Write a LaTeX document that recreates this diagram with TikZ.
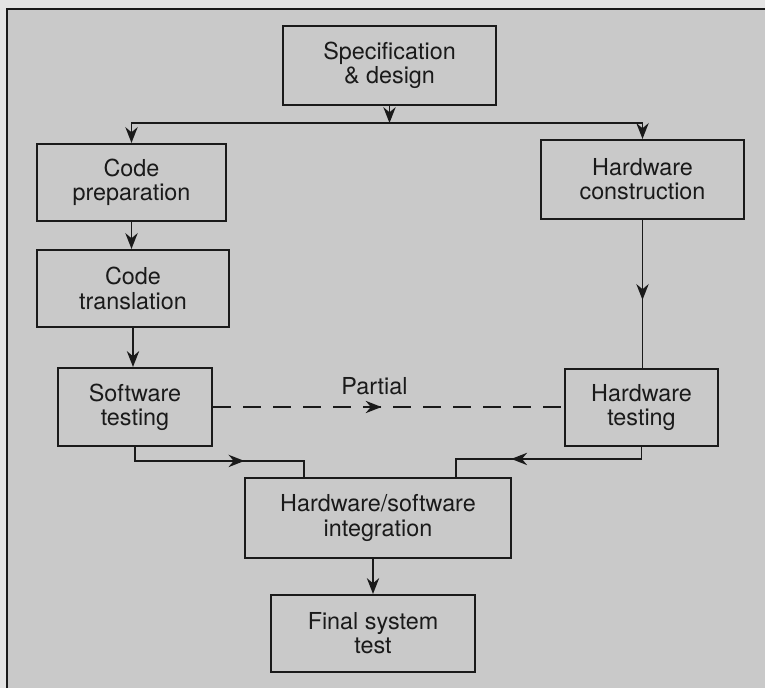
\documentclass[tikz,border=0pt]{standalone}
\usepackage{fontspec}
\setmainfont{TeX Gyre Heros}
\usepackage{xcolor}
\usetikzlibrary{arrows.meta, positioning, calc, decorations.markings}
\definecolor{sdink}{HTML}{1A1A1A}
\definecolor{sdpaper}{HTML}{C9C9C9}
\definecolor{sdmargin}{HTML}{E4E4E4}
\tikzset{
    % Stage box
    stagebox/.style={
        rectangle,
        draw=sdink,
        line width=1.2pt,
        fill=sdpaper,
        text=sdink,
        font=\fontsize{13.3}{13.8}\selectfont,
        align=center,
        inner sep=2pt
    },
    % Plain connector
    flowline/.style={
        draw=sdink,
        line width=1pt
    },
    % Connector with tip at the end
    flowarrow/.style={
        flowline,
        -{Stealth[length=9pt,width=7pt]}
    },
    % Connector with tip along the path
    midarrow/.style={
        flowline,
        decoration={markings, mark=at position #1 with {\arrow{Stealth[length=9pt,width=7pt]}}},
        postaction={decorate}
    },
    midarrow/.default=0.5
}

\begin{document}
\begin{tikzpicture}

    % Page and frame
    \useasboundingbox (0,0) rectangle (15.3,13.76);
    \fill[sdmargin] (0,0) rectangle (15.3,13.76);
    \fill[sdpaper] (0.14,0) rectangle (15.3,13.58);
    \draw[sdink, line width=1.2pt] (0.14,0) -- (0.14,13.58) -- (15.3,13.58);

    % Stages
    \node[stagebox, minimum width=4.26cm, minimum height=1.58cm] (spec) at (7.79,12.45) {Specification\\\& design};
    \node[stagebox, minimum width=3.78cm, minimum height=1.54cm] (cprep) at (2.63,10.11) {Code\\preparation};
    \node[stagebox, minimum width=4.06cm, minimum height=1.58cm] (hwcon) at (12.85,10.17) {Hardware\\construction};
    \node[stagebox, minimum width=3.84cm, minimum height=1.54cm] (ctrans) at (2.66,7.99) {Code\\translation};
    \node[stagebox, minimum width=3.08cm, minimum height=1.56cm] (swtest) at (2.70,5.62) {Software\\testing};
    \node[stagebox, minimum width=3.06cm, minimum height=1.54cm] (hwtest) at (12.83,5.61) {Hardware\\testing};
    \node[stagebox, minimum width=5.32cm, minimum height=1.60cm] (integ) at (7.56,3.40) {Hardware/software\\integration};
    \node[stagebox, minimum width=4.08cm, minimum height=1.54cm] (final) at (7.46,1.09) {Final system\\test};

    % Split below the specification
    \coordinate (split) at (spec.south |- 0,11.30);
    \draw[flowarrow] (spec.south) -- (split);
    \draw[flowarrow] (split) -| (cprep.north);
    \draw[flowarrow] (split) -| (hwcon.north);

    % Software column
    \draw[flowarrow] (cprep.south) -- (cprep.south |- ctrans.north);
    \draw[flowarrow] (ctrans.south) -- (ctrans.south |- swtest.north);

    % Hardware column
    \draw[midarrow=0.54] (hwcon.south) -- (hwcon.south |- hwtest.north);

    % Partial link
    \draw[midarrow=0.48, dash pattern=on 0.36cm off 0.24cm] (swtest.east) -- (swtest.east -| hwtest.west);
    \node[font=\fontsize{13.3}{13.8}\selectfont, text=sdink, anchor=base, inner sep=0pt] (partial)
        at ($(swtest.east)!0.46!(swtest.east -| hwtest.west) + (0,0.26)$) {Partial};

    % Into integration
    \coordinate (inl) at ([xshift=1.2cm]integ.north west);
    \coordinate (inr) at ([xshift=-1.12cm]integ.north east);
    \draw[midarrow=0.62] (swtest.south) |- ($(inl)+(0,0.32)$) -- (inl);
    \draw[midarrow=0.66] (hwtest.south) |- ($(inr)+(0,0.36)$) -- (inr);

    % Final test
    \draw[flowarrow] (final.north |- integ.south) -- (final.north);

\end{tikzpicture}
\end{document}
